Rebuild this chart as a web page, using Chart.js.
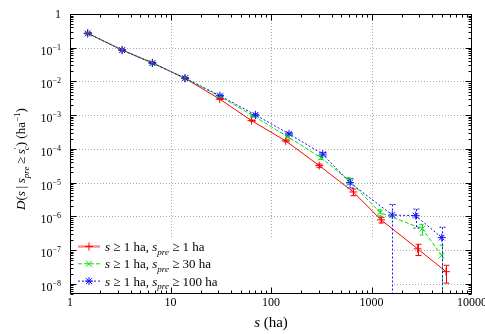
<!DOCTYPE html>
<html>
<head>
<meta charset="utf-8">
<script src="https://cdn.jsdelivr.net/npm/chart.js@4.4.1/dist/chart.umd.min.js"></script>
<style>
html, body { margin: 0; padding: 0; background: #fff; }
#box { width: 485px; height: 334px; }
</style>
</head>
<body>
<div id="box"><canvas id="fires"></canvas></div>
<script>
// s >= 1 ha, s_pre >= 1 ha
var sizeRed = [1.5, 3.3, 6.6, 13.9, 30.9, 64, 140, 302, 659, 1244, 2880, 5510];
var densRed = [0.27, 0.086, 0.036, 0.0124, 0.0030, 6.9e-4, 1.73e-4, 3.2e-5, 5.3e-6, 7.9e-7, 1.09e-7, 2.3e-8];
var errRed = [0.008, 0.0025, 0.001, 0.0004, 0.0001, 3e-5, 1.2e-5, 3.5e-6, 1.2e-6, 1.5e-7, 4e-8, 1.25e-8];
// s >= 1 ha, s_pre >= 30 ha
var sizeGreen = [1.5, 3.3, 6.6, 13.9, 31, 66, 147, 314, 601, 1216, 3200, 5000];
var densGreen = [0.265, 0.085, 0.035, 0.0125, 0.0036, 9.7e-4, 2.3e-4, 5.5e-5, 1.15e-5, 1.3e-6, 4.3e-7, 6.9e-8];
var errGreen = [0.01, 0.003, 0.0012, 0.0005, 0.00015, 5e-5, 1.8e-5, 6e-6, 2.5e-6, 2.7e-7, 1.5e-7, 7e-8];
// s >= 1 ha, s_pre >= 100 ha
var sizeBlue = [1.5, 3.3, 6.6, 14, 31, 70, 151, 327, 611, 1610, 2755, 5000];
var densBlue = [0.265, 0.085, 0.035, 0.0125, 0.0038, 1.02e-3, 2.8e-4, 7.0e-5, 1.0e-5, 1.1e-6, 1.05e-6, 2.35e-7];
var errBlue = [0.01, 0.003, 0.0012, 0.0005, 0.00015, 6e-5, 2.2e-5, 8e-6, 3e-6, 1.15e-6, 6e-7, 2.4e-7];

var xTicks = [1, 10, 100, 1000, 10000];
var yExps = [0, -1, -2, -3, -4, -5, -6, -7, -8];
var legendPre = ['1', '30', '100'];

var FONT = '"Liberation Serif", "Times New Roman", serif';
var colors = ['#ff0000', '#00e000', '#1010ff'];
var dashes = [[], [4, 2], [2, 2]];
var errs = [errRed, errGreen, errBlue];
var marks = ['cross', 'crossRot', 'star'];

function pts(xs, ys) {
  return xs.map(function (x, i) { return { x: x, y: ys[i] }; });
}

function drawRich(ctx, parts, x, y, size, align) {
  var segs = parts.map(function (p) {
    var small = p.d || p.u;
    var fs = small ? Math.round(size * 0.7) : size;
    return {
      t: p.t,
      font: (p.i ? 'italic ' : '') + fs + 'px ' + FONT,
      dy: p.d ? size * 0.28 : (p.u ? -size * 0.42 : 0),
      back: p.b || 0
    };
  });
  var total = 0;
  segs.forEach(function (s) { ctx.font = s.font; s.w = ctx.measureText(s.t).width; total += s.w - s.back; });
  var cx = align === 'center' ? x - total / 2 : (align === 'right' ? x - total : x);
  ctx.textAlign = 'left';
  ctx.textBaseline = 'alphabetic';
  segs.forEach(function (s) { cx -= s.back; ctx.font = s.font; ctx.fillText(s.t, cx, y + s.dy); cx += s.w; });
}

function marker(ctx, style, x, y, r) {
  ctx.beginPath();
  if (style !== 'crossRot') {
    ctx.moveTo(x - r, y); ctx.lineTo(x + r, y);
    ctx.moveTo(x, y - r); ctx.lineTo(x, y + r);
  }
  if (style !== 'cross') {
    var d = r * 0.75;
    ctx.moveTo(x - d, y - d); ctx.lineTo(x + d, y + d);
    ctx.moveTo(x - d, y + d); ctx.lineTo(x + d, y - d);
  }
  ctx.stroke();
}

var decor = {
  id: 'decor',
  beforeDatasetsDraw: function (chart) {
    var ctx = chart.ctx, a = chart.chartArea;
    var sx = chart.scales.x, sy = chart.scales.y;
    ctx.save();
    ctx.strokeStyle = '#a8a8a8';
    ctx.lineWidth = 1;
    ctx.setLineDash([1, 2]);
    xTicks.slice(1, -1).forEach(function (v) {
      var px = Math.round(sx.getPixelForValue(v)) + 0.5;
      ctx.beginPath(); ctx.moveTo(px, a.top); ctx.lineTo(px, a.bottom); ctx.stroke();
    });
    yExps.slice(1).forEach(function (e) {
      var py = Math.round(sy.getPixelForValue(Math.pow(10, e))) + 0.5;
      ctx.beginPath(); ctx.moveTo(a.left, py); ctx.lineTo(a.right, py); ctx.stroke();
    });
    // opaque key box
    ctx.fillStyle = '#fff';
    ctx.fillRect(a.left + 1, a.bottom - 56, 321, 56);
    ctx.restore();
  },
  afterDatasetsDraw: function (chart) {
    var ctx = chart.ctx, a = chart.chartArea;
    var sx = chart.scales.x, sy = chart.scales.y;
    ctx.save();
    ctx.beginPath();
    ctx.rect(a.left, a.top, a.right - a.left, a.bottom - a.top);
    ctx.clip();
    chart.data.datasets.forEach(function (ds, k) {
      ctx.strokeStyle = colors[k];
      ctx.lineWidth = 1;
      ctx.setLineDash(dashes[k]);
      ds.data.forEach(function (p, i) {
        var e = errs[k][i];
        var px = Math.round(sx.getPixelForValue(p.x)) + 0.5;
        var top = sy.getPixelForValue(p.y + e);
        var low = p.y - e > 0 ? sy.getPixelForValue(p.y - e) : a.bottom + 2;
        ctx.beginPath();
        ctx.moveTo(px, top); ctx.lineTo(px, low);
        ctx.moveTo(px - 3, top); ctx.lineTo(px + 3, top);
        if (p.y - e > 0) { ctx.moveTo(px - 3, low); ctx.lineTo(px + 3, low); }
        ctx.stroke();
      });
    });
    ctx.restore();
  },
  afterDraw: function (chart) {
    var ctx = chart.ctx, a = chart.chartArea;
    var sx = chart.scales.x, sy = chart.scales.y;
    ctx.save();
    ctx.strokeStyle = '#000';
    ctx.fillStyle = '#000';
    ctx.lineWidth = 1;
    var L = Math.round(a.left) + 0.5, R = Math.round(a.right) - 0.5;
    var T = Math.round(a.top) + 0.5, B = Math.round(a.bottom) - 0.5;
    // tick marks inward on all sides
    ctx.beginPath();
    for (var d = 0; d < 4; d++) {
      for (var m = 1; m <= 9; m++) {
        var v = m * Math.pow(10, d);
        var px = Math.round(sx.getPixelForValue(v)) + 0.5;
        var len = m === 1 ? 6 : 3;
        ctx.moveTo(px, B); ctx.lineTo(px, B - len);
        ctx.moveTo(px, T); ctx.lineTo(px, T + len);
      }
    }
    for (var e = -9; e < 0; e++) {
      for (var n = 1; n <= 9; n++) {
        var val = n * Math.pow(10, e);
        if (val < sy.min) continue;
        var py = Math.round(sy.getPixelForValue(val)) + 0.5;
        var ln = n === 1 ? 6 : 3;
        ctx.moveTo(L, py); ctx.lineTo(L + ln, py);
        ctx.moveTo(R, py); ctx.lineTo(R - ln, py);
      }
    }
    ctx.stroke();
    ctx.strokeRect(L, T, R - L, B - T);

    // x tick labels
    xTicks.forEach(function (v) {
      drawRich(ctx, [{ t: String(v) }], sx.getPixelForValue(v), a.bottom + 12, 12, 'center');
    });
    // y tick labels
    yExps.forEach(function (e) {
      var py = sy.getPixelForValue(Math.pow(10, e));
      if (e === 0) drawRich(ctx, [{ t: '1' }], 61, py + 4, 12, 'right');
      else drawRich(ctx, [{ t: '10' }, { t: '\u2212' + (-e), u: 1 }], 61, py + 7, 12, 'right');
    });
    // axis titles
    drawRich(ctx, [{ t: 's', i: 1 }, { t: ' (ha)' }], (a.left + a.right) / 2, 327, 15, 'center');
    ctx.save();
    ctx.translate(25, 159);
    ctx.rotate(-Math.PI / 2);
    drawRich(ctx, [
      { t: 'D', i: 1 }, { t: '(' }, { t: 's', i: 1 }, { t: '\u2009|\u2009' }, { t: 's', i: 1 }, { t: 'pre', i: 1, d: 1 },
      { t: '\u2009\u2265\u2009' }, { t: 's', i: 1 }, { t: '\u2032', u: 1 }, { t: 'c', i: 1, d: 1, b: 3 }, { t: ')' },
      { t: ' (ha' }, { t: '\u22121', u: 1 }, { t: ')' }
    ], 0, 0, 13, 'center');
    ctx.restore();

    // key
    legendPre.forEach(function (lp, k) {
      var y = a.bottom - 47.5 + k * 17.3;
      ctx.save();
      ctx.setLineDash(dashes[k]);
      ctx.strokeStyle = k === 0 ? 'rgba(255,0,0,0.45)' : colors[k];
      ctx.lineWidth = k === 0 ? 2.5 : 1;
      ctx.beginPath(); ctx.moveTo(78, y); ctx.lineTo(100, y); ctx.stroke();
      ctx.setLineDash([]);
      ctx.strokeStyle = colors[k];
      ctx.lineWidth = 1;
      marker(ctx, marks[k], 89, y, 4);
      ctx.restore();
      drawRich(ctx, [
        { t: 's', i: 1 }, { t: ' \u2265 1 ha, ' }, { t: 's', i: 1 }, { t: 'pre', i: 1, d: 1 },
        { t: ' \u2265 ' + lp + ' ha' }
      ], 105, y + 4.5, 13, 'left');
    });
    ctx.restore();
  }
};

var ctx = document.getElementById('fires');
var myChart = new Chart(ctx, {
  type: 'scatter',
  data: {
    datasets: [
      { data: pts(sizeRed, densRed), order: 2 },
      { data: pts(sizeGreen, densGreen), order: 1 },
      { data: pts(sizeBlue, densBlue), order: 0 }
    ].map(function (ds, k) {
      ds.showLine = true;
      ds.borderColor = colors[k];
      ds.backgroundColor = colors[k];
      ds.borderWidth = 1;
      ds.borderDash = dashes[k];
      ds.pointStyle = marks[k];
      ds.pointRadius = 4;
      ds.pointHoverRadius = 4;
      ds.pointBorderColor = colors[k];
      ds.pointBorderWidth = 1;
      ds.tension = 0;
      return ds;
    })
  },
  options: {
    responsive: true,
    maintainAspectRatio: false,
    animation: false,
    devicePixelRatio: 1,
    layout: { padding: { left: 0, right: 13, top: 14, bottom: 0 } },
    plugins: { legend: { display: false }, tooltip: { enabled: false } },
    scales: {
      x: {
        type: 'logarithmic', min: 1, max: 10000,
        grid: { display: false }, border: { display: false },
        ticks: { display: false },
        afterFit: function (s) { s.height = 40; s.paddingLeft = 0; s.paddingRight = 0; }
      },
      y: {
        type: 'logarithmic', min: 5e-9, max: 1,
        grid: { display: false }, border: { display: false },
        ticks: { display: false },
        afterFit: function (s) { s.width = 70; s.paddingTop = 0; s.paddingBottom = 0; }
      }
    }
  },
  plugins: [decor]
});
</script>
</body>
</html>
